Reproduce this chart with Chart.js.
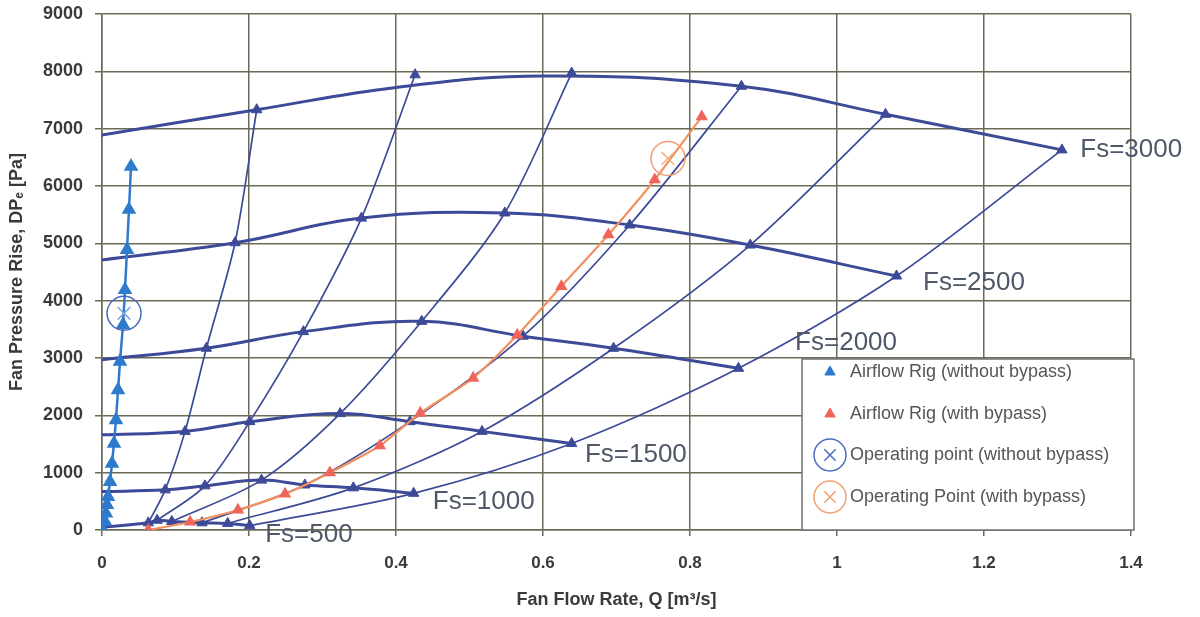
<!DOCTYPE html>
<html>
<head>
<meta charset="utf-8">
<title>Fan curves</title>
<script src="https://cdn.jsdelivr.net/npm/chart.js@4.4.0/dist/chart.umd.min.js"></script>
<style>
  html, body { margin: 0; padding: 0; background: #fff; }
  #wrap { width: 1200px; height: 617px; }
</style>
</head>
<body>
<div id="wrap"><canvas id="fanChart" width="1200" height="617"></canvas></div>
<script>
// --- tick labels ---
const xTickLabels = ['0', '0.2', '0.4', '0.6', '0.8', '1', '1.2', '1.4'];
const yTickLabels = ['0', '1000', '2000', '3000', '4000', '5000', '6000', '7000', '8000', '9000'];

// --- fan curves (constant speed) : Q [m3/s], DP [Pa] ---
const fan500Q  = [0, 0.063, 0.075, 0.095, 0.136, 0.171, 0.201];
const fan500P  = [50, 125, 170, 150, 125, 115, 75];
const fan1000Q = [0, 0.086, 0.140, 0.217, 0.276, 0.342, 0.424];
const fan1000P = [670, 700, 770, 870, 785, 735, 640];
const fan1500Q = [0, 0.113, 0.201, 0.324, 0.419, 0.517, 0.639];
const fan1500P = [1660, 1720, 1890, 2030, 1890, 1720, 1510];
const fan2000Q = [0, 0.142, 0.274, 0.435, 0.573, 0.696, 0.866];
const fan2000P = [2970, 3170, 3460, 3640, 3380, 3170, 2820];
const fan2500Q = [0, 0.181, 0.353, 0.548, 0.718, 0.882, 1.081];
const fan2500P = [4710, 5010, 5440, 5530, 5320, 4970, 4430];
const fan3000Q = [0, 0.2105, 0.40, 0.60, 0.870, 1.066, 1.306];
const fan3000P = [6890, 7330, 7720, 7920, 7740, 7250, 6630];

// --- system curves (airflow rig settings) ---
const sys1Q = [0.063, 0.086, 0.113, 0.142, 0.181, 0.2105];
const sys1P = [125, 700, 1720, 3170, 5010, 7330];
const sys2Q = [0.075, 0.140, 0.201, 0.274, 0.353, 0.426];
const sys2P = [170, 770, 1890, 3460, 5440, 7940];
const sys3Q = [0.095, 0.217, 0.324, 0.435, 0.548, 0.639];
const sys3P = [150, 870, 2030, 3640, 5530, 7970];
const sys4Q = [0.136, 0.276, 0.419, 0.573, 0.718, 0.870];
const sys4P = [125, 785, 1890, 3380, 5320, 7740];
const sys5Q = [0.171, 0.342, 0.517, 0.696, 0.882, 1.066];
const sys5P = [115, 735, 1720, 3170, 4970, 7250];
const sys6Q = [0.201, 0.424, 0.639, 0.866, 1.081, 1.306];
const sys6P = [75, 640, 1510, 2820, 4430, 6630];

// --- airflow rig without bypass ---
const rigNoBypassQ = [0.0014, 0.0041, 0.0054, 0.0068, 0.0082, 0.0109, 0.0136, 0.0163, 0.019, 0.0218, 0.0245, 0.0286, 0.0313, 0.034, 0.0367, 0.0395];
const rigNoBypassP = [0, 150, 290, 440, 580, 840, 1160, 1510, 1920, 2440, 2940, 3580, 4190, 4890, 5590, 6340];

// --- airflow rig with bypass ---
const rigBypassQ = [0.063, 0.12, 0.185, 0.249, 0.31, 0.378, 0.433, 0.505, 0.565, 0.625, 0.689, 0.752, 0.816];
const rigBypassP = [0, 140, 350, 630, 1000, 1470, 2040, 2650, 3400, 4250, 5150, 6110, 7210];

// --- operating points ---
const opNoBypassQ = [0.030];
const opNoBypassP = [3780];
const opBypassQ = [0.770];
const opBypassP = [6480];

// --- curve annotations ---
const fsLabelText = ['Fs=500', 'Fs=1000', 'Fs=1500', 'Fs=2000', 'Fs=2500', 'Fs=3000'];
const fsLabelQ = [0.222, 0.450, 0.657, 0.943, 1.117, 1.331];
const fsLabelP = [-90, 495, 1310, 3260, 4310, 6630];

const legendLabels = ['Airflow Rig (without bypass)', 'Airflow Rig (with bypass)', 'Operating point (without bypass)', 'Operating Point (with bypass)'];

const NAVY = '#3d4a97';
const LIGHTBLUE = '#2e7bcb';
const ORANGE_LINE = '#f29060';
const ORANGE_MARK = '#f0645a';
const OP_BLUE = '#4a6cbc';
const OP_ORANGE = '#eea070';
const GRID = '#6a6a58';
const FONT = '"Liberation Sans", Arial, sans-serif';

function pts(qs, ps) {
    return qs.map((q, i) => ({ x: q, y: ps[i] }));
}

function fanSet(qs, ps) {
    return { data: pts(qs, ps), showLine: true, borderColor: NAVY, borderWidth: 3, pointRadius: 0, tension: 0.4, fill: false };
}

function sysSet(qs, ps) {
    return {
        data: pts(qs, ps), showLine: true, borderColor: NAVY, borderWidth: 1.7,
        pointStyle: 'triangle', pointRadius: 6, pointBackgroundColor: NAVY, pointBorderColor: NAVY, pointBorderWidth: 1,
        tension: 0.3, fill: false
    };
}

// "Fs=..." labels next to each fan curve
const fsLabelPlugin = {
    id: 'fsLabels',
    afterDatasetsDraw(chart) {
        const ctx = chart.ctx;
        const xs = chart.scales.x, ys = chart.scales.y;
        ctx.save();
        ctx.font = '26px ' + FONT;
        ctx.fillStyle = '#4f5868';
        ctx.textAlign = 'left';
        ctx.textBaseline = 'middle';
        fsLabelText.forEach((t, i) => {
            ctx.fillText(t, xs.getPixelForValue(fsLabelQ[i]), ys.getPixelForValue(fsLabelP[i]));
        });
        ctx.restore();
    }
};

// boxed legend inside the plot, bottom right
const legendBoxPlugin = {
    id: 'legendBox',
    afterDraw(chart) {
        const ctx = chart.ctx;
        const box = { left: 802, top: 359, right: 1134, bottom: 530 };
        const rowY = [372, 414, 455, 497];
        const markX = 830, textX = 850;
        ctx.save();
        ctx.fillStyle = '#ffffff';
        ctx.fillRect(box.left, box.top, box.right - box.left, box.bottom - box.top);
        ctx.strokeStyle = '#707070';
        ctx.lineWidth = 1.5;
        ctx.strokeRect(box.left, box.top, box.right - box.left, box.bottom - box.top);

        const draw = Chart.helpers.drawPoint;
        ctx.lineWidth = 1;
        ctx.fillStyle = LIGHTBLUE; ctx.strokeStyle = LIGHTBLUE;
        draw(ctx, { pointStyle: 'triangle', radius: 6, rotation: 0, borderWidth: 1 }, markX, rowY[0]);
        ctx.fillStyle = ORANGE_MARK; ctx.strokeStyle = ORANGE_MARK;
        draw(ctx, { pointStyle: 'triangle', radius: 6, rotation: 0, borderWidth: 1 }, markX, rowY[1]);

        ctx.lineWidth = 1.5;
        ctx.fillStyle = 'rgba(0,0,0,0)';
        ctx.strokeStyle = OP_BLUE;
        draw(ctx, { pointStyle: 'circle', radius: 16, rotation: 0, borderWidth: 1.5 }, markX, rowY[2]);
        draw(ctx, { pointStyle: 'crossRot', radius: 8, rotation: 0, borderWidth: 1.5 }, markX, rowY[2]);
        ctx.strokeStyle = OP_ORANGE;
        draw(ctx, { pointStyle: 'circle', radius: 16, rotation: 0, borderWidth: 1.5 }, markX, rowY[3]);
        draw(ctx, { pointStyle: 'crossRot', radius: 8, rotation: 0, borderWidth: 1.5 }, markX, rowY[3]);

        ctx.font = '18px ' + FONT;
        ctx.fillStyle = '#555555';
        ctx.textAlign = 'left';
        ctx.textBaseline = 'middle';
        legendLabels.forEach((t, i) => ctx.fillText(t, textX, rowY[i]));
        ctx.restore();
    }
};

const ctx = document.getElementById('fanChart').getContext('2d');
new Chart(ctx, {
    type: 'scatter',
    data: {
        datasets: [
            { data: pts(opNoBypassQ, opNoBypassP), pointStyle: 'circle', pointRadius: 17, pointBorderColor: OP_BLUE, pointBackgroundColor: 'rgba(0,0,0,0)', pointBorderWidth: 1.5 },
            { data: pts(opNoBypassQ, opNoBypassP), pointStyle: 'crossRot', pointRadius: 9, pointBorderColor: '#7ea2dc', pointBorderWidth: 1.5 },
            { data: pts(opBypassQ, opBypassP), pointStyle: 'circle', pointRadius: 17, pointBorderColor: OP_ORANGE, pointBackgroundColor: 'rgba(0,0,0,0)', pointBorderWidth: 1.5 },
            { data: pts(opBypassQ, opBypassP), pointStyle: 'crossRot', pointRadius: 9, pointBorderColor: '#f0b080', pointBorderWidth: 1.5 },
            {
                data: pts(rigNoBypassQ, rigNoBypassP), showLine: true, borderColor: LIGHTBLUE, borderWidth: 2.5,
                pointStyle: 'triangle', pointRadius: 6, pointBackgroundColor: LIGHTBLUE, pointBorderColor: LIGHTBLUE, tension: 0
            },
            {
                data: pts(rigBypassQ, rigBypassP), showLine: true, borderColor: ORANGE_LINE, borderWidth: 2.2,
                pointStyle: 'triangle', pointRadius: 5, pointBackgroundColor: ORANGE_MARK, pointBorderColor: ORANGE_MARK, tension: 0.2
            },
            sysSet(sys1Q, sys1P),
            sysSet(sys2Q, sys2P),
            sysSet(sys3Q, sys3P),
            sysSet(sys4Q, sys4P),
            sysSet(sys5Q, sys5P),
            sysSet(sys6Q, sys6P),
            fanSet(fan500Q, fan500P),
            fanSet(fan1000Q, fan1000P),
            fanSet(fan1500Q, fan1500P),
            fanSet(fan2000Q, fan2000P),
            fanSet(fan2500Q, fan2500P),
            fanSet(fan3000Q, fan3000P)
        ]
    },
    options: {
        responsive: false,
        animation: false,
        events: [],
        layout: { autoPadding: false, padding: { left: 0, right: 69, top: 14, bottom: 0 } },
        plugins: { legend: { display: false }, tooltip: { enabled: false } },
        scales: {
            x: {
                type: 'linear', min: 0, max: 1.4,
                ticks: {
                    stepSize: 0.2, padding: 17, color: '#3a3a3a', maxRotation: 0,
                    font: { family: FONT, size: 17, weight: 'bold' },
                    callback: (v, i) => xTickLabels[i]
                },
                grid: { color: GRID, lineWidth: 1.5, tickLength: 6, tickColor: GRID },
                border: { color: GRID, width: 1.5 },
                title: {
                    display: true, text: 'Fan Flow Rate, Q [m³/s]', color: '#3a3a3a',
                    font: { family: FONT, size: 18, weight: 'bold' }, padding: { top: 0, bottom: 6 }
                },
                afterFit: s => { s.height = 87; }
            },
            y: {
                type: 'linear', min: 0, max: 9000,
                ticks: {
                    stepSize: 1000, padding: 12, color: '#3a3a3a',
                    font: { family: FONT, size: 18, weight: 'bold' },
                    callback: (v, i) => yTickLabels[i]
                },
                grid: { color: GRID, lineWidth: 1.5, tickLength: 7, tickColor: GRID },
                border: { color: GRID, width: 1.5 },
                title: {
                    display: true, text: 'Fan Pressure Rise, DPₑ [Pa]', color: '#3a3a3a',
                    font: { family: FONT, size: 18, weight: 'bold' }, padding: { top: 6, bottom: 0 }
                },
                afterFit: s => { s.width = 102; s.paddingTop = 0; s.paddingBottom = 0; }
            }
        }
    },
    plugins: [fsLabelPlugin, legendBoxPlugin]
});
</script>
</body>
</html>
